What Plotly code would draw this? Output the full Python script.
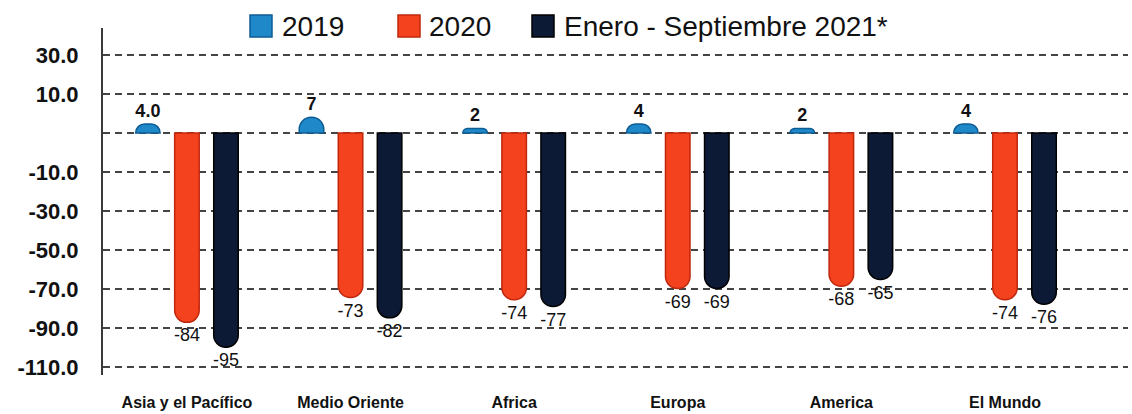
import plotly.graph_objects as go

# ---------------- data ----------------
categories = ["Asia y el Pacífico", "Medio Oriente", "Africa", "Europa", "America", "El Mundo"]
series_names = ["2019", "2020", "Enero - Septiembre 2021*"]
values_2019 = [4.0, 7, 2, 4, 2, 4]
values_2020 = [-84, -73, -74, -69, -68, -74]
values_2021 = [-95, -82, -77, -69, -65, -76]
labels_2019 = ["4.0", "7", "2", "4", "2", "4"]
labels_2020 = ["-84", "-73", "-74", "-69", "-68", "-74"]
labels_2021 = ["-95", "-82", "-77", "-69", "-65", "-76"]
y_tick_labels = ["30.0", "10.0", "", "-10.0", "-30.0", "-50.0", "-70.0", "-90.0", "-110.0"]
y_tick_steps = [2, 1, 0, -1, -2, -3, -4, -5, -6]

# ---------------- style / layout ----------------
W, H = 1132, 414
ML, MR, MT, MB = 103, 4, 28, 39
PW, PH = W - ML - MR, H - MT - MB
GRID_PX = 39          # pixel distance between grid lines
ZERO_FROM_TOP = 105   # pixel distance of baseline from plot top
Y_STEP = 17.3         # value distance between grid lines
y_top = ZERO_FROM_TOP / GRID_PX * Y_STEP
y_bot = -(PH - ZERO_FROM_TOP) / GRID_PX * Y_STEP

FONT = "Liberation Sans, Arial, Helvetica, sans-serif"
colors = ["#1E88C8", "#F4421F", "#0D1A36"]
edge_colors = ["#0E5C94", "#C0280C", "#000000"]

fig = go.Figure()
for name, vals, labs, col, ecol, bold in zip(
    series_names,
    [values_2019, values_2020, values_2021],
    [labels_2019, labels_2020, labels_2021],
    colors, edge_colors, [True, False, False],
):
    fig.add_trace(go.Bar(
        x=categories, y=vals, name=name,
        text=labs, textposition="outside", textangle=0,
        constraintext="none", cliponaxis=False,
        textfont=dict(family=FONT, size=18, color="#111111",
                      weight="bold" if bold else "normal"),
        marker=dict(color=col, line=dict(color=ecol, width=1.5)),
        showlegend=False,
    ))

# custom legend (large square swatches)
def px_x(px):
    return (px - ML) / PW

def px_y(py):
    return (H - MB - py) / PH

legend_items = [(250, 280), (398, 427), (532, 562)]
shapes = []
annotations = []
for (sx, tx), name, col, ecol in zip(legend_items, series_names, colors, edge_colors):
    shapes.append(dict(type="rect", xref="paper", yref="paper",
                       x0=px_x(sx), x1=px_x(sx + 22), y0=px_y(37), y1=px_y(15),
                       fillcolor=col, line=dict(color=ecol, width=1.5)))
    annotations.append(dict(text=name, xref="paper", yref="paper",
                            x=px_x(tx), y=px_y(27), xanchor="left", yanchor="middle",
                            showarrow=False,
                            font=dict(family=FONT, size=28, color="#111111")))

fig.update_layout(
    width=W, height=H,
    margin=dict(l=ML, r=MR, t=MT, b=MB, autoexpand=False),
    paper_bgcolor="white", plot_bgcolor="white",
    barmode="group", bargap=0.284, bargroupgap=0.372,
    barcornerradius=12,
    shapes=shapes, annotations=annotations,
    font=dict(family=FONT, color="#111111"),
)
fig.update_xaxes(
    range=[-0.513, 5.752], showgrid=False, showline=False, zeroline=False,
    ticks="", ticklabelstandoff=16, automargin=False,
    tickfont=dict(family=FONT, size=16, color="#111111", weight="bold"),
)
fig.update_yaxes(
    range=[y_bot, y_top], automargin=False,
    tickvals=[k * Y_STEP for k in y_tick_steps], ticktext=y_tick_labels,
    showline=True, linecolor="#3a3a3a", linewidth=2,
    showgrid=True, gridcolor="#444444", gridwidth=2, griddash="7px,5px",
    zeroline=False, ticks="", ticklabelstandoff=18,
    tickfont=dict(family=FONT, size=22, color="#111111", weight="bold"),
)

fig.write_html("out.html")
